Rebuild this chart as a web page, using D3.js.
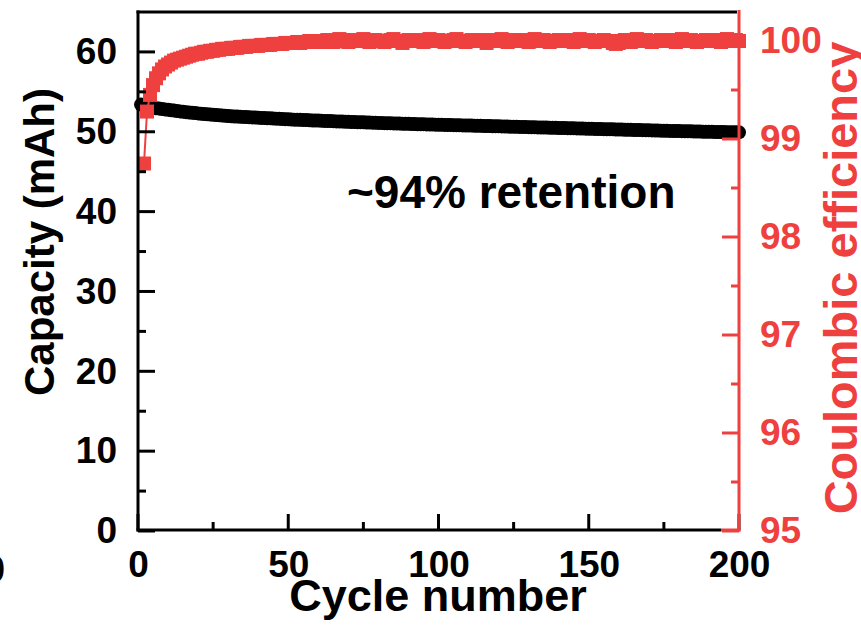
<!DOCTYPE html>
<html><head><meta charset="utf-8">
<script src="https://cdn.jsdelivr.net/npm/d3@7"></script>
<style>body{margin:0;background:#fff}svg{display:block}text{font-family:"Liberation Sans",Arial,sans-serif;font-weight:bold}</style>
</head><body><svg id="c" width="861" height="633"></svg>
<script>
const xTicks=[0,50,100,150,200];
const yLeftTicks=[0,10,20,30,40,50,60];
const yRightTicks=[95,96,97,98,99,100];
const capacity=[53.4,53.3,53.2,53.1,53.0,52.95,52.9,52.85,52.8,52.75,
52.7,52.65,52.6,52.55,52.5,52.46,52.42,52.38,52.34,52.3,
52.26,52.22,52.19,52.16,52.13,52.1,52.07,52.04,52.01,51.98,
51.95,51.92,51.9,51.88,51.86,51.84,51.82,51.8,51.78,51.76,
51.74,51.72,51.7,51.68,51.66,51.64,51.62,51.6,51.58,51.56,
51.54,51.52,51.5,51.49,51.48,51.46,51.44,51.42,51.41,51.4,
51.38,51.36,51.35,51.34,51.32,51.3,51.29,51.28,51.26,51.24,
51.23,51.22,51.2,51.19,51.18,51.16,51.15,51.14,51.12,51.11,
51.1,51.08,51.07,51.06,51.05,51.04,51.02,51.01,51.0,50.99,
50.98,50.96,50.95,50.94,50.93,50.92,50.91,50.9,50.89,50.88,
50.87,50.86,50.85,50.84,50.83,50.82,50.81,50.8,50.79,50.78,
50.77,50.76,50.75,50.74,50.73,50.72,50.71,50.7,50.69,50.68,
50.67,50.66,50.65,50.64,50.63,50.62,50.61,50.6,50.59,50.58,
50.57,50.56,50.55,50.54,50.53,50.52,50.51,50.5,50.49,50.48,
50.47,50.46,50.45,50.44,50.43,50.42,50.41,50.4,50.39,50.38,
50.37,50.36,50.35,50.34,50.33,50.32,50.31,50.3,50.29,50.28,
50.27,50.26,50.25,50.24,50.23,50.22,50.21,50.2,50.19,50.18,
50.17,50.16,50.15,50.14,50.13,50.12,50.11,50.1,50.1,50.09,
50.08,50.07,50.06,50.05,50.04,50.03,50.02,50.01,50.0,50.0,
49.99,49.98,49.97,49.97,49.96,49.95,49.95,49.94,49.94,49.93];
// cycle 1 has no coulombic-efficiency point
const efficiency=[null,98.75,99.28,99.45,99.55,99.62,99.67,99.71,99.74,99.76,
99.78,99.8,99.81,99.82,99.83,99.84,99.85,99.86,99.87,99.87,
99.88,99.89,99.89,99.9,99.9,99.91,99.91,99.92,99.92,99.92,
99.93,99.93,99.93,99.94,99.94,99.94,99.95,99.95,99.95,99.95,
99.96,99.96,99.96,99.96,99.97,99.97,99.97,99.97,99.98,99.98,
99.98,99.98,99.99,99.98,99.99,99.99,100.0,99.99,100.0,100.0,
99.99,100.0,100.01,100.0,99.99,100.0,100.02,100.01,100.0,99.99,
100.0,100.01,100.0,100.0,100.02,100.0,99.99,100.0,100.01,100.0,
100.0,99.99,100.0,100.01,100.02,100.0,100.0,99.98,100.0,100.01,
100.0,100.0,100.01,100.0,99.99,100.0,100.02,100.0,100.0,100.01,
100.0,99.99,100.0,100.0,100.01,100.02,100.0,100.0,99.99,100.0,
100.01,100.0,100.0,100.01,100.0,99.98,100.0,100.01,100.0,100.0,
100.02,100.0,99.99,100.0,100.01,100.0,100.0,100.01,100.0,99.99,
100.0,100.02,100.0,100.0,100.01,100.0,99.99,100.0,100.0,100.01,
100.0,100.0,100.01,100.0,99.99,100.0,100.02,100.0,100.0,100.01,
100.0,99.99,100.0,100.0,100.01,100.0,100.0,99.98,99.97,99.98,
100.0,100.01,100.0,99.99,100.0,100.02,100.0,100.0,100.01,100.0,
99.99,100.0,100.0,100.01,100.0,100.0,100.01,100.0,99.99,100.0,
100.02,100.0,100.0,100.01,100.0,99.99,100.0,100.0,100.01,100.0,
100.0,100.01,100.0,99.99,100.0,100.02,100.0,100.0,100.01,100.0];
const cycles=d3.range(1,capacity.length+1);

const RED="#ef4040";
const svg=d3.select("#c");
const x=d3.scaleLinear().domain([0,200]).range([138,739]);
const yL=d3.scaleLinear().domain([0,65]).range([531,12]);
const yR=d3.scaleLinear().domain([95,100.296]).range([531,12]);

// capacity (black circles)
svg.append("g").selectAll("circle").data(cycles).join("circle")
  .attr("cx",d=>x(d)).attr("cy",(d,i)=>yL(capacity[i])).attr("r",7).attr("fill","#000");
// efficiency line + squares
const ce=cycles.map((c,i)=>({c,v:efficiency[i]})).filter(d=>d.v!=null);
svg.append("path").datum(ce).attr("fill","none").attr("stroke",RED).attr("stroke-width",2)
  .attr("d",d3.line().x(d=>x(d.c)).y(d=>yR(d.v)));
svg.append("g").selectAll("rect").data(ce).join("rect")
  .attr("x",d=>x(d.c)-7).attr("y",d=>yR(d.v)-7).attr("width",14).attr("height",14).attr("fill",RED);

// axes
const xAxis=svg.append("g").attr("transform",`translate(0,${yL(0)-1.5})`)
  .call(d3.axisBottom(x).tickValues(xTicks).tickSize(0).tickPadding(21).tickFormat(d3.format("d")));
xAxis.select(".domain").remove();
xAxis.selectAll("text").attr("font-size",37).attr("fill","#000").attr("dy","0.72em");
const xMinor=[25,75,125,175];
svg.append("g").selectAll("line").data(xTicks.concat(xMinor)).join("line")
  .attr("x1",d=>x(d)).attr("x2",d=>x(d)).attr("y1",530).attr("y2",d=>530-(xTicks.includes(d)?16:8))
  .attr("stroke","#000").attr("stroke-width",3);

const yAxisL=svg.append("g").attr("transform",`translate(${x(0)-1},0)`)
  .call(d3.axisLeft(yL).tickValues(yLeftTicks).tickSize(0).tickPadding(20));
yAxisL.select(".domain").remove();
yAxisL.selectAll("text").attr("font-size",37).attr("fill","#000");
const yLMinor=[5,15,25,35,45,55];
svg.append("g").selectAll("line").data(yLeftTicks.concat(yLMinor)).join("line")
  .attr("x1",x(0)).attr("x2",d=>x(0)+(yLeftTicks.includes(d)?17:8)).attr("y1",d=>yL(d)).attr("y2",d=>yL(d))
  .attr("stroke","#000").attr("stroke-width",3);

const yAxisR=svg.append("g").attr("transform",`translate(${x(200)+1},0)`)
  .call(d3.axisRight(yR).tickValues(yRightTicks).tickSize(0).tickPadding(20).tickFormat(d3.format("d")));
yAxisR.select(".domain").remove();
yAxisR.selectAll("text").attr("font-size",37).attr("fill",RED);
const yRMinor=[95.5,96.5,97.5,98.5,99.5];
svg.append("g").selectAll("line").data(yRightTicks.concat(yRMinor)).join("line")
  .attr("x1",x(200)).attr("x2",d=>x(200)-(yRightTicks.includes(d)?17:8)).attr("y1",d=>yR(d)).attr("y2",d=>yR(d))
  .attr("stroke",RED).attr("stroke-width",3);

// frame
svg.append("line").attr("x1",x(0)).attr("x2",x(0)).attr("y1",10.5).attr("y2",531.5).attr("stroke","#000").attr("stroke-width",3);
svg.append("line").attr("x1",x(0)-1.5).attr("x2",x(200)-2).attr("y1",12).attr("y2",12).attr("stroke","#000").attr("stroke-width",3);
svg.append("line").attr("x1",x(0)-1.5).attr("x2",x(194)).attr("y1",530).attr("y2",530).attr("stroke","#000").attr("stroke-width",3);
svg.append("line").attr("x1",x(194)).attr("x2",x(200)+1.5).attr("y1",530).attr("y2",530).attr("stroke",RED).attr("stroke-width",3);
svg.append("line").attr("x1",x(200)).attr("x2",x(200)).attr("y1",10).attr("y2",531.5).attr("stroke",RED).attr("stroke-width",3);

// titles
svg.append("text").attr("x",438).attr("y",611).attr("text-anchor","middle").attr("font-size",45).attr("fill","#000").text("Cycle number");
svg.append("text").attr("transform","translate(54,242) rotate(-90)").attr("text-anchor","middle").attr("font-size",42).attr("fill","#000").text("Capacity (mAh)");
svg.append("text").attr("transform","translate(857,278) rotate(-90)").attr("text-anchor","middle").attr("font-size",47).attr("fill",RED).text("Coulombic efficiency");
svg.append("text").attr("x",347).attr("y",208).attr("font-size",46).attr("fill","#000").text("~94% retention");
// fragment of neighbouring panel at the left edge
svg.append("text").attr("x",5).attr("y",582).attr("text-anchor","end").attr("font-size",37).attr("fill","#000").text("0");
</script></body></html>
